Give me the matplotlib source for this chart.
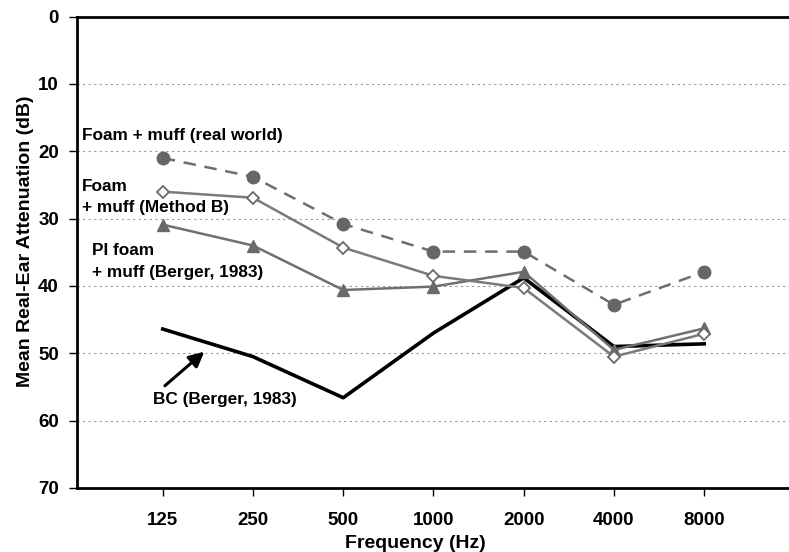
import numpy as np
import matplotlib
matplotlib.use('Agg')
import matplotlib.pyplot as plt

plt.rcParams['font.family'] = ['Liberation Sans', 'DejaVu Sans']
plt.rcParams['font.weight'] = 'bold'

# data (attenuation in dB)
freqs = ['125', '250', '500', '1000', '2000', '4000', '8000']
real_world = [21.0, 23.8, 30.8, 34.9, 34.9, 42.8, 37.9]
method_b = [26.0, 26.9, 34.3, 38.5, 40.3, 50.5, 47.1]
pi_foam = [30.9, 34.0, 40.6, 40.1, 37.9, 49.5, 46.3]
bc_berger = [46.4, 50.5, 56.6, 47.0, 38.8, 49.0, 48.6]

x = np.arange(len(freqs))

fig = plt.figure(figsize=(7.89, 5.52), dpi=100)
ax = fig.add_axes([0.0976, 0.116, 0.9024, 0.854])

ax.plot(x, bc_berger, color='black', lw=2.6, zorder=3)
ax.plot(x, pi_foam, color='#707070', lw=1.8, marker='^', ms=9,
        mfc='#6a6a6a', mec='#6a6a6a', zorder=4)
ax.plot(x, method_b, color='#7a7a7a', lw=1.8, marker='D', ms=6.5,
        mfc='white', mec='#6a6a6a', mew=1.3, zorder=5)
ax.plot(x, real_world, color='#6e6e6e', lw=1.8, ls=(0, (5, 3.5)), marker='o', ms=9,
        mfc='#666666', mec='#666666', zorder=4)

ax.set_ylim(70, 0)
ax.set_xlim(-0.95, 6.94)
ax.set_yticks(range(0, 71, 10))
ax.set_xticks(x)
ax.set_xticklabels(freqs)
ax.yaxis.grid(True, ls=(0, (2, 3)), color='#9a9a9a', lw=0.8)
ax.set_axisbelow(True)

for s in ['left', 'bottom', 'top']:
    ax.spines[s].set_linewidth(2)
ax.spines['right'].set_visible(False)
ax.tick_params(axis='y', length=6, width=1, pad=7, labelsize=13.5)
ax.tick_params(axis='x', length=6, width=1, pad=11.5, labelsize=13.5)

ax.set_ylabel('Mean Real-Ear Attenuation (dB)', fontsize=14, fontweight='bold')
ax.set_xlabel('Frequency (Hz)', fontsize=14, fontweight='bold')
ax.yaxis.set_label_coords(-0.060, 0.523)
ax.xaxis.set_label_coords(0.475, -0.0996)

fs = 12.4
ax.text(-0.898, 17.6, 'Foam + muff (real world)', fontsize=fs, va='center', ha='left')
ax.text(-0.898, 25.3, 'Foam', fontsize=fs, va='center', ha='left')
ax.text(-0.898, 28.4, '+ muff (Method B)', fontsize=fs, va='center', ha='left')
ax.text(-0.787, 34.7, 'PI foam', fontsize=fs, va='center', ha='left')
ax.text(-0.787, 38.0, '+ muff (Berger, 1983)', fontsize=fs, va='center', ha='left')
ax.text(-0.11, 56.9, 'BC (Berger, 1983)', fontsize=fs, va='center', ha='left')
ax.annotate('', xy=(0.484, 49.5), xytext=(0.0, 55.1),
            arrowprops=dict(arrowstyle='-|>,head_length=0.9,head_width=0.45',
                            color='black', lw=2.2))

fig.savefig('out.png', dpi=100)
